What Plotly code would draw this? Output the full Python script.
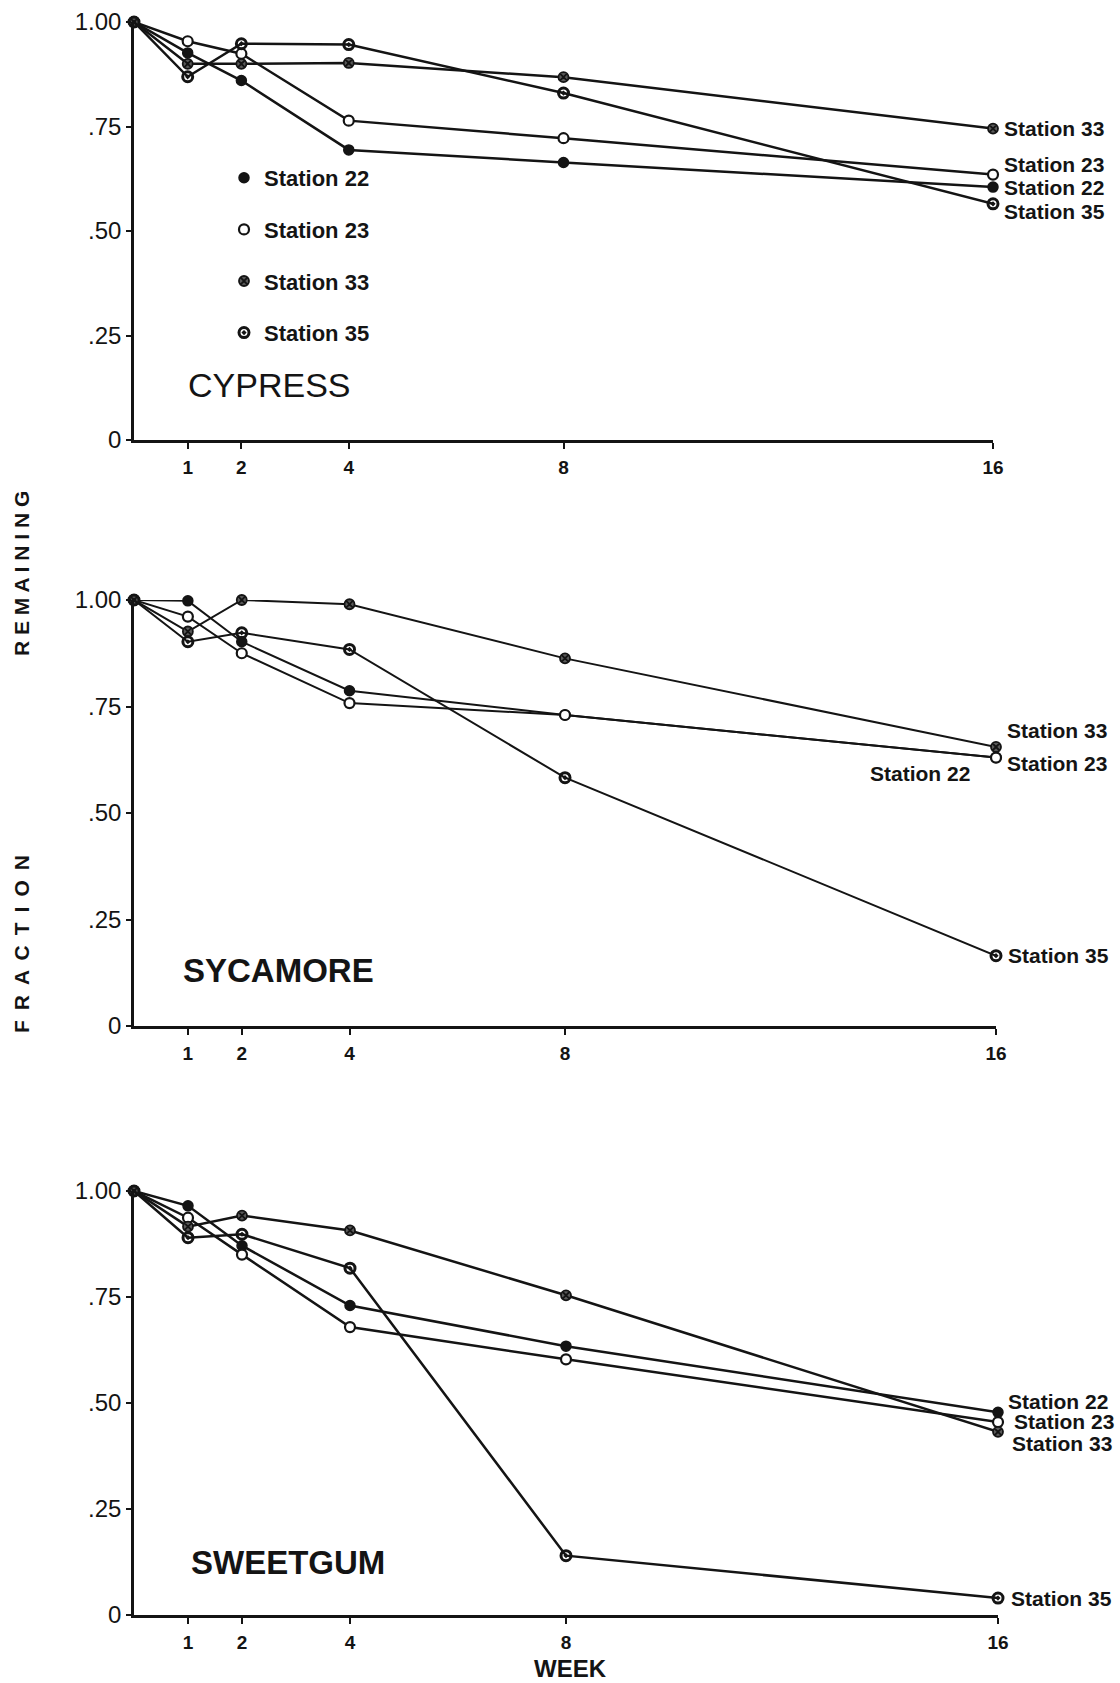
import plotly.graph_objects as go

# ---------------- data ----------------
weeks = [0, 1, 2, 4, 8, 16]
stations = ["Station 22", "Station 23", "Station 33", "Station 35"]

cypress_22 = [1.00, 0.926, 0.860, 0.694, 0.664, 0.605]
cypress_23 = [1.00, 0.954, 0.924, 0.764, 0.722, 0.635]
cypress_33 = [1.00, 0.900, 0.900, 0.902, 0.868, 0.745]
cypress_35 = [1.00, 0.869, 0.948, 0.946, 0.830, 0.565]

sycamore_22 = [1.00, 0.998, 0.902, 0.787, 0.730, 0.630]
sycamore_23 = [1.00, 0.961, 0.875, 0.758, 0.730, 0.630]
sycamore_33 = [1.00, 0.926, 1.000, 0.990, 0.863, 0.655]
sycamore_35 = [1.00, 0.902, 0.923, 0.884, 0.583, 0.165]

sweetgum_22 = [1.00, 0.965, 0.871, 0.730, 0.634, 0.478]
sweetgum_23 = [1.00, 0.937, 0.850, 0.679, 0.603, 0.455]
sweetgum_33 = [1.00, 0.916, 0.942, 0.907, 0.754, 0.432]
sweetgum_35 = [1.00, 0.890, 0.898, 0.818, 0.140, 0.040]

species = ["CYPRESS", "SYCAMORE", "SWEETGUM"]
x_tickvals = [1, 2, 4, 8, 16]
x_ticktext = ["1", "2", "4", "8", "16"]
y_tickvals = [0, 0.25, 0.5, 0.75, 1.0]
y_ticktext = ["0", ".25", ".50", ".75", "1.00"]

series = {
    "CYPRESS": [cypress_22, cypress_23, cypress_33, cypress_35],
    "SYCAMORE": [sycamore_22, sycamore_23, sycamore_33, sycamore_35],
    "SWEETGUM": [sweetgum_22, sweetgum_23, sweetgum_33, sweetgum_35],
}

# ---------------- styling / layout ----------------
W, H = 1120, 1683
INK = "#141414"
FONT = "Liberation Sans, Arial, Helvetica, sans-serif"

def px_x(p):
    return p / W

def px_y(p):
    return 1 - p / H

# pixel boxes of each panel: (x0 left, x16 right, y1.00 top, y0 bottom)
panel_px = {
    "CYPRESS": (134, 993, 22, 440),
    "SYCAMORE": (134, 996, 600, 1026),
    "SWEETGUM": (134, 998, 1191, 1615),
}
title_px = {"CYPRESS": (269, 385, 34, False), "SYCAMORE": (278, 970, 33, True),
            "SWEETGUM": (288, 1562, 33, True)}
line_w = {"CYPRESS": 2.5, "SYCAMORE": 2.0, "SWEETGUM": 2.5}

markers = {
    "Station 22": dict(symbol="circle", color=INK, size=10, line=dict(color=INK, width=1.5)),
    "Station 23": dict(symbol="circle", color="white", size=10, line=dict(color=INK, width=2.2)),
    "Station 33": dict(symbol="circle-x", color="#5a5a5a", size=10, line=dict(color=INK, width=1.8)),
    "Station 35": dict(symbol="circle-open-dot", color=INK, size=10, line=dict(color=INK, width=3)),
}

# end label placement (xanchor, xshift, yshift) per panel & station
end_labels = {
    "CYPRESS": {"Station 22": ("left", 9, 0), "Station 23": ("left", 9, 10),
                "Station 33": ("left", 9, 0), "Station 35": ("left", 9, -8)},
    "SYCAMORE": {"Station 22": ("right", -24, -16), "Station 23": ("left", 9, -6),
                 "Station 33": ("left", 9, 16), "Station 35": ("left", 10, 0)},
    "SWEETGUM": {"Station 22": ("left", 8, 11), "Station 23": ("left", 14, 1),
                 "Station 33": ("left", 12, -12), "Station 35": ("left", 11, 0)},
}

fig = go.Figure()
annotations = []
layout_axes = {}

for i, sp in enumerate(species):
    k = "" if i == 0 else str(i + 1)
    xa, ya = "x" + k, "y" + k
    x0, x1, yt, yb = panel_px[sp]
    layout_axes["xaxis" + k] = dict(
        domain=[px_x(x0), px_x(x1)], range=[0, 16], anchor=ya,
        showline=True, linecolor=INK, linewidth=2.5, showgrid=False, zeroline=False,
        tickmode="array", tickvals=x_tickvals, ticktext=x_ticktext,
        ticks="outside", ticklen=6, tickwidth=2, tickcolor=INK,
        tickfont=dict(family=FONT, size=19, color=INK, weight="bold"),
        ticklabelstandoff=2,
    )
    layout_axes["yaxis" + k] = dict(
        domain=[px_y(yb), px_y(yt)], range=[0, 1], anchor=xa,
        showline=True, linecolor=INK, linewidth=2.5, showgrid=False, zeroline=False,
        tickmode="array", tickvals=y_tickvals, ticktext=y_ticktext,
        ticks="outside", ticklen=5, tickwidth=2, tickcolor=INK,
        tickfont=dict(family=FONT, size=24, color=INK),
    )
    for st, vals in zip(stations, series[sp]):
        fig.add_trace(go.Scatter(
            x=weeks, y=vals, xaxis=xa, yaxis=ya, mode="lines+markers",
            line=dict(color=INK, width=line_w[sp]), marker=markers[st],
            cliponaxis=False, showlegend=False, name=st,
        ))
        anc, xs, ys = end_labels[sp][st]
        annotations.append(dict(
            x=weeks[-1], y=vals[-1], xref=xa, yref=ya, text=st, showarrow=False,
            xanchor=anc, yanchor="middle", xshift=xs, yshift=ys,
            font=dict(family=FONT, size=21, color=INK, weight="bold"),
        ))
    tx, ty, fs, bold = title_px[sp]
    annotations.append(dict(
        x=px_x(tx), y=px_y(ty), xref="paper", yref="paper", text=sp, showarrow=False,
        xanchor="center", yanchor="middle",
        font=dict(family=FONT, size=fs, color=INK, weight="bold" if bold else "normal"),
    ))

# legend-only entries (shown in the Cypress panel)
for st in stations:
    fig.add_trace(go.Scatter(
        x=[None], y=[None], mode="markers", marker=markers[st], name=st,
        legendgroup=st, showlegend=True,
    ))

# axis titles
thin = "\u2009"
annotations.append(dict(x=px_x(21), y=px_y(574), xref="paper", yref="paper",
                        xanchor="center", yanchor="middle",
                        text="R E M A I N I N G", textangle=-90, showarrow=False,
                        font=dict(family=FONT, size=21, color=INK, weight="bold")))
annotations.append(dict(x=px_x(21), y=px_y(944), xref="paper", yref="paper",
                        xanchor="center", yanchor="middle",
                        text=(" " + thin).join("FRACTION"), textangle=-90, showarrow=False,
                        font=dict(family=FONT, size=21, color=INK, weight="bold")))
annotations.append(dict(x=px_x(570), y=px_y(1668), xref="paper", yref="paper",
                        xanchor="center", yanchor="middle",
                        text="WEEK", showarrow=False,
                        font=dict(family=FONT, size=24, color=INK, weight="bold")))

fig.update_layout(
    width=W, height=H, margin=dict(l=0, r=0, t=0, b=0),
    paper_bgcolor="white", plot_bgcolor="white", template="none",
    annotations=annotations,
    showlegend=True,
    legend=dict(x=px_x(224), y=px_y(157), xanchor="left", yanchor="top",
                traceorder="grouped", tracegroupgap=20, bgcolor="rgba(0,0,0,0)",
                font=dict(family=FONT, size=22, color=INK, weight="bold")),
    **layout_axes,
)

fig.write_html("out.html", config={"displayModeBar": False},
               post_script="document.body.style.margin='0';document.body.style.overflow='hidden';")
